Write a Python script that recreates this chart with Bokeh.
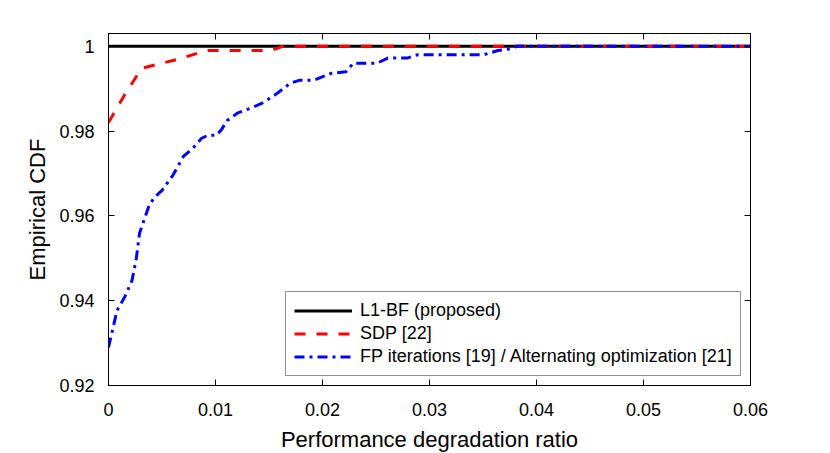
from bokeh.plotting import figure
from bokeh.models import Range1d, LinearAxis, FixedTicker, Legend, LegendItem
from bokeh.embed import file_html
from bokeh.resources import INLINE

# ---- data ----
l1_x = [0.0, 0.06]
l1_y = [1.0, 1.0]

sdp_x = [0.0, 0.0015, 0.0031, 0.0066, 0.0085, 0.0092, 0.0152, 0.0163, 0.06]
sdp_y = [0.982, 0.9885, 0.9948, 0.997, 0.9985, 0.999, 0.999, 1.0, 1.0]

fp_x = [0.0, 0.0008, 0.0015, 0.0022, 0.0026, 0.0029, 0.0038, 0.0043, 0.005, 0.006,
        0.007, 0.0079, 0.0087, 0.0093, 0.0101, 0.0106, 0.0111, 0.0121, 0.0134, 0.0143,
        0.0155, 0.0165, 0.017, 0.0179, 0.0192, 0.0208, 0.0222, 0.0229, 0.0251, 0.0261,
        0.0279, 0.0289, 0.0351, 0.0364, 0.0373, 0.0382, 0.06]
fp_y = [0.929, 0.9377, 0.9408, 0.9448, 0.950, 0.9559, 0.9625, 0.9644, 0.966, 0.9695,
        0.974, 0.976, 0.9783, 0.979, 0.979, 0.9805, 0.9825, 0.9843, 0.9855, 0.9865,
        0.9884, 0.9903, 0.9913, 0.992, 0.992, 0.9936, 0.994, 0.996, 0.996, 0.9972,
        0.9972, 0.998, 0.998, 0.999, 0.9993, 1.0, 1.0]

x_ticks = [0.0, 0.01, 0.02, 0.03, 0.04, 0.05, 0.06]
x_tick_labels = ["0", "0.01", "0.02", "0.03", "0.04", "0.05", "0.06"]
y_ticks = [0.92, 0.94, 0.96, 0.98, 1.0]
y_tick_labels = ["0.92", "0.94", "0.96", "0.98", "1"]

labels = ["L1-BF (proposed)", "SDP [22]",
          "FP iterations [19] / Alternating optimization [21]"]

FONT = "Liberation Sans"

p = figure(width=814, height=445, output_backend="svg", toolbar_location=None,
           x_range=Range1d(0, 0.06), y_range=Range1d(0.92, 1.003),
           min_border_left=108, min_border_right=64, min_border_top=33,
           min_border_bottom=60, x_axis_label="Performance degradation ratio",
           y_axis_label="Empirical CDF")
p.frame_width = 642
p.frame_height = 352
p.grid.visible = False
p.outline_line_color = "black"
p.outline_line_width = 1
p.background_fill_color = "white"
p.border_fill_color = "white"

p.xaxis.ticker = FixedTicker(ticks=x_ticks)
p.yaxis.ticker = FixedTicker(ticks=y_ticks)
p.xaxis.major_label_overrides = dict(zip(x_ticks, x_tick_labels))
p.yaxis.major_label_overrides = dict(zip(y_ticks, y_tick_labels))

for ax in [p.xaxis[0], p.yaxis[0]]:
    ax.major_tick_in = 6
    ax.major_tick_out = 0
    ax.minor_tick_line_color = None
    ax.axis_line_color = "black"
    ax.major_tick_line_color = "black"
    ax.major_label_text_font = FONT
    ax.major_label_text_font_size = "18px"
    ax.major_label_text_color = "black"
    ax.axis_label_text_font = FONT
    ax.axis_label_text_font_size = "22px"
    ax.axis_label_text_font_style = "normal"
    ax.axis_label_text_color = "black"

p.xaxis.major_label_standoff = 17
p.xaxis.axis_label_standoff = 8
p.yaxis.major_label_standoff = 14
p.yaxis.axis_label_standoff = 6

top = LinearAxis(ticker=FixedTicker(ticks=x_ticks),
                 major_label_overrides={t: "" for t in x_ticks})
right = LinearAxis(ticker=FixedTicker(ticks=y_ticks),
                   major_label_overrides={t: "" for t in y_ticks})
for ax in (top, right):
    ax.major_tick_in = 6
    ax.major_tick_out = 0
    ax.minor_tick_line_color = None
    ax.major_label_standoff = 0
    ax.major_label_text_font_size = "1px"
    ax.axis_line_color = "black"
    ax.major_tick_line_color = "black"
p.add_layout(top, "above")
p.add_layout(right, "right")

r1 = p.line(l1_x, l1_y, line_color="black", line_width=3)
r2 = p.line(sdp_x, sdp_y, line_color="#ff0000", line_width=3, line_dash="11 11")
r3 = p.line(fp_x, fp_y, line_color="#0000ff", line_width=3, line_dash="10 5 3 5")

legend = Legend(items=[LegendItem(label=labels[0], renderers=[r1]),
                       LegendItem(label=labels[1], renderers=[r2]),
                       LegendItem(label=labels[2], renderers=[r3])],
                location=(177, 9), orientation="vertical")
legend.margin = 0
legend.padding = 8
legend.spacing = 2
legend.glyph_width = 58
legend.glyph_height = 21
legend.label_height = 21
legend.label_standoff = 8
legend.label_text_font = FONT
legend.label_text_font_size = "18px"
legend.label_text_color = "black"
legend.border_line_color = "#262626"
legend.border_line_width = 1
legend.background_fill_color = "white"
legend.background_fill_alpha = 1
p.add_layout(legend, "center")

open("out.html", "w").write(file_html(p, INLINE))
